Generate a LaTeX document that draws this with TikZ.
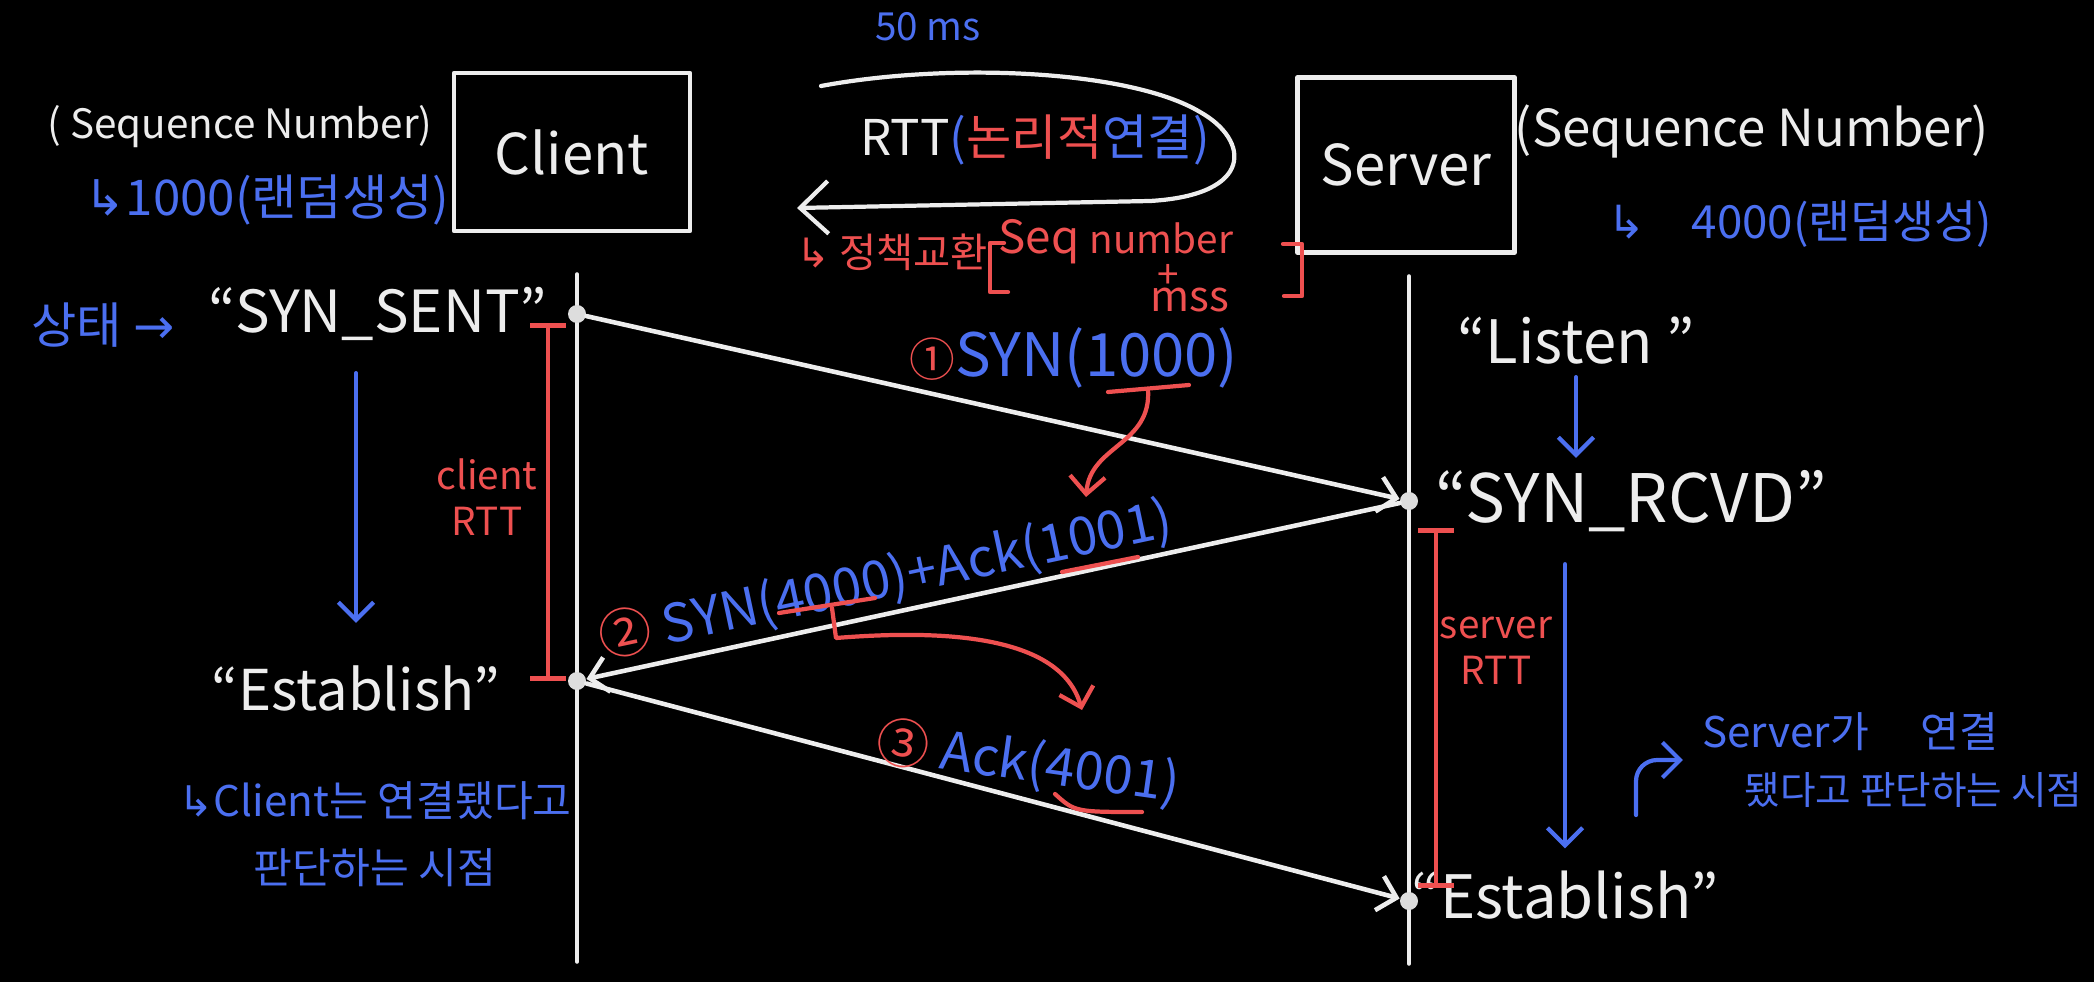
\documentclass[tikz,border=0pt]{standalone}
\usepackage{fontspec}
\setmainfont{Noto Sans CJK KR}
\newfontfamily\symfont{DejaVu Sans}
\usetikzlibrary{arrows.meta}
\definecolor{penwhite}{HTML}{EDEDED}
\definecolor{penblue}{HTML}{4B6FF0}
\definecolor{penred}{HTML}{EE5050}
\newcommand{\pensize}[1]{\fontsize{#1}{#1}\selectfont}
\begin{document}
\begin{tikzpicture}[x=0.01cm,y=-0.01cm,line cap=round,line join=round,color=penwhite,
		>={Straight Barb[length=5pt,width=10pt]}]
		\tikzset{box/.style={draw,line width=1.2pt,minimum width=2.36cm,minimum height=1.58cm,font=\pensize{16}},
			dot/.style={circle,fill=penwhite!85!gray,inner sep=0pt,minimum size=0.18cm},
			lifeline/.style={line width=1pt},
			msg/.style={->,line width=1.3pt},
			state/.style={->,penblue,line width=1.2pt},
			redline/.style={penred,line width=1.2pt},
			note/.style={->,penred,line width=1.2pt},
			rttbar/.style={{Bar[width=10pt]}-{Bar[width=10pt]},penred,line width=1.3pt},
			bluetxt/.style={text=penblue},
			redtxt/.style={text=penred,inner sep=1pt}
		}
		\useasboundingbox (0,0) rectangle (2094,982);
		\fill[black] (0,0) rectangle (2094,982);
		\node[box] (client) at (572,152) {Client};
		\node[box,minimum width=2.17cm,minimum height=1.75cm] (server) at (1406,165) {Server};
		\coordinate (clTop) at (577,274);
		\coordinate (clBot) at (577,962);
		\coordinate (svTop) at (1409,276);
		\coordinate (svBot) at (1409,964);
		\draw[lifeline] (clTop) -- (clBot);
		\draw[lifeline] (svTop) -- (svBot);
		\node[dot] (c1) at (577,314) {};
		\node[dot] (c2) at (577,681) {};
		\node[dot] (s1) at (1409,501) {};
		\node[dot] (s2) at (1409,901) {};
		\draw[msg] (c1) -- (s1);
		\draw[msg] (s1) -- (c2);
		\draw[msg] (c2) -- (s2);
		
		\node[font=\pensize{11.5}] (seqC) at (240,127) {( Sequence Number)};
		\node[bluetxt,font=\pensize{14}] (randC) at (267,200) {{\symfont ↳}1000(랜덤생성)};
		\node[bluetxt,font=\pensize{14}] (stateC) at (103,325) {상태 {\symfont →}};
		\node[font=\pensize{16.5}] (synsent) at (378,314) {“SYN\_SENT”};
		\node[font=\pensize{16}] (estC) at (356,688) {“Establish”};
		\node[bluetxt,font=\fontsize{12}{19}\selectfont,align=center] (noteC) at (375,834) {{\symfont ↳}Client는 연결됐다고\\판단하는 시점};
		\node[redtxt,font=\fontsize{11}{13}\selectfont,align=center] (rttC) at (487,497) {client\\RTT};
		
		\node[font=\pensize{14.5}] (seqS) at (1752,131) {(Sequence Number)};
		\node[bluetxt,font=\pensize{13}] (randS) at (1800,224) {{\symfont ↳}\quad 4000(랜덤생성)};
		\node[font=\pensize{17}] (listen) at (1576,341) {“Listen ”};
		\node[font=\pensize{19}] (synrcvd) at (1631,501) {“SYN\_RCVD”};
		\node[font=\pensize{17}] (estS) at (1565,895) {“Establish”};
		\node[redtxt,font=\fontsize{11}{13}\selectfont,align=center] (rttS) at (1496,651) {server\\RTT};
		\node[bluetxt,font=\fontsize{12}{16}\selectfont,align=left,anchor=west] (noteS) at (1690,760) {Server가 \quad 연결\\\hspace{1em}{\fontsize{11}{16}\selectfont 됐다고 판단하는 시점}};
		
		\node[bluetxt,font=\pensize{11}] (lat) at (928,27) {50 ms};
		\node[font=\pensize{14}] (rtt) at (1035,140) {RTT{\color{penblue}(}{\color{penred}논리적}{\color{penblue}연결)}};
		\draw[line width=1.2pt,>={Straight Barb[length=8pt,width=15pt]},->] (821,86) .. controls (950,62) and (1130,70) .. (1200,112) .. controls (1250,140) and (1255,195) .. (1150,201) -- (797,208);
		\node[redtxt,font=\pensize{11.5},anchor=west] (policy) at (792,252) {{\symfont ↳} 정책교환};
		\node[redtxt,inner sep=0pt,font=\pensize{13},anchor=west] (seqno) at (998,242) {Seq {\pensize{11}number}};
		\node[redtxt,inner sep=0pt,font=\pensize{11}] (plus) at (1168,276) {+};
		\node[redtxt,inner sep=0pt,font=\pensize{12}] (mss) at (1190,300) {mss};
		\draw[redline] (1004,243) -- (990,243) -- (990,292) -- (1008,292);
		\draw[redline] (1283,244) -- (1302,244) -- (1302,296) -- (1284,296);
		
		\node[bluetxt,font=\pensize{17},anchor=west] (syn1) at (897,358) {{\pensize{13}\color{penred}①}SYN(1000)};
		\node[bluetxt,font=\pensize{15},rotate=12] (syn2) at (886,580) {{\color{penred}②} SYN(4000)+Ack(1001)};
		\node[bluetxt,font=\pensize{15},rotate=-8] (ack3) at (1028,764) {{\color{penred}③} Ack(4001)};
		\coordinate (u1000) at (1148,389);
		\coordinate (t1001) at (1086,497);
		\coordinate (u4000) at (832,608);
		\coordinate (t4001) at (1082,710);
		\draw[redline] (1108,392) -- (1189,385);
		\draw[redline] (1062,572) -- (1138,557);
		\draw[redline] (779,613) -- (875,598);
		\draw[redline] (1055,794) .. controls (1075,812) .. (1142,812);
		\draw[note] (u1000) .. controls (1152,445) and (1090,445) .. (t1001);
		\draw[note] (u4000) -- (836,638) .. controls (960,628) and (1062,640) .. (t4001);
		
		\draw[rttbar] ([xshift=-0.29cm,yshift=-0.09cm]c1.center) -- ([xshift=-0.29cm]c2.center);
		\draw[rttbar] ([xshift=0.27cm,yshift=-0.27cm]s1.center) -- ([xshift=0.27cm,yshift=0.13cm]s2.center);
		
		\draw[state,shorten <=0.2cm,shorten >=0.3cm] (synsent.south -| estC) -- (estC.north);
		\draw[state] (listen.south) -- (listen.south |- synrcvd.north);
		\draw[state,shorten <=0.2cm,shorten >=0.1cm] (synrcvd.south -| estS) -- (estS.north);
		\coordinate (noteSfoot) at (1636,815);
		\draw[state,rounded corners=6pt] (noteSfoot) |- ([xshift=-2pt]noteS.west);
	\end{tikzpicture}
\end{document}
